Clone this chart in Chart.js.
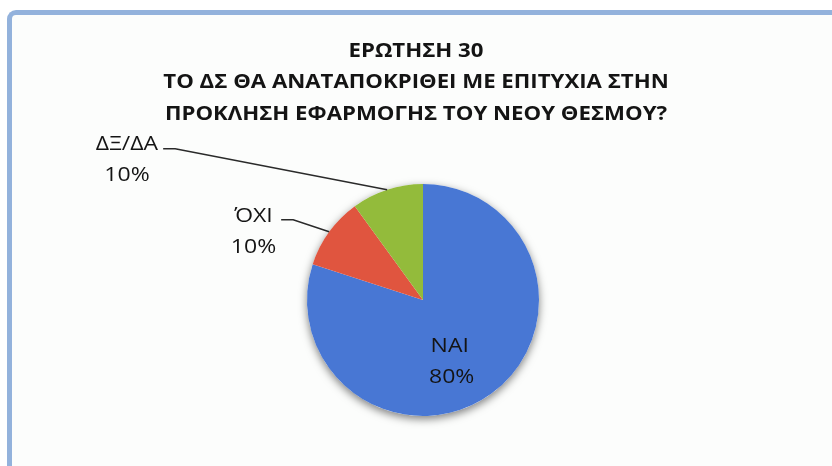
<!DOCTYPE html>
<html>
<head>
<meta charset="utf-8">
<script src="https://cdn.jsdelivr.net/npm/chart.js@4.4.0/dist/chart.umd.min.js"></script>
<style>
  html, body { margin: 0; padding: 0; background: #ffffff; overflow: hidden; }
  #frame {
    position: absolute; left: 7px; top: 10px; width: 840px; height: 470px;
    border-top: 5px solid #93b2dc; border-left: 5px solid #93b2dc;
    border-top-left-radius: 9px; background: #fcfdfc;
  }
  #wrap { position: absolute; left: 0; top: 0; width: 832px; height: 466px; }
</style>
</head>
<body>
<div id="frame"></div>
<div id="wrap"><canvas id="chart"></canvas></div>
<script>
const titleLines = [
  "ΕΡΩΤΗΣΗ 30",
  "ΤΟ ΔΣ ΘΑ ΑΝΑΤΑΠΟΚΡΙΘΕΙ ΜΕ ΕΠΙΤΥΧΙΑ ΣΤΗΝ",
  "ΠΡΟΚΛΗΣΗ ΕΦΑΡΜΟΓΗΣ ΤΟΥ ΝΕΟΥ ΘΕΣΜΟΥ?"
];
const categories = ["ΝΑΙ", "ΌΧΙ", "ΔΞ/ΔΑ"];
const percents = [80, 10, 10];
const sliceColors = ["#4877d4", "#e0553f", "#93bb3b"];

// how each label sits: inside the slice, or outside with an elbow leader line
const labelPlacement = [
  { inside: true, dist: 0.58, turn: 0.22 },
  { inside: false, elbowDx: -36, elbowDy: -12 },
  { inside: false, elbowDx: -212, elbowDy: -41 }
];

const titleFont = "bold 20px 'Open Sans'";
const titleStretch = 1.11;
const labelFont = "20px 'Open Sans'";
const labelStretch = 1.15;

// the scanned original is wider than the font, so text is drawn stretched
function wideText(ctx, text, x, y, sx) {
  ctx.save();
  ctx.translate(x, y);
  ctx.scale(sx, 1);
  ctx.fillText(text, 0, 0);
  ctx.restore();
}

const pieDecor = {
  id: "pieDecor",
  beforeDatasetsDraw(chart) {
    const ctx = chart.ctx;
    const arc = chart.getDatasetMeta(0).data[0];
    ctx.save();
    ctx.shadowColor = "rgba(0,0,0,0.5)";
    ctx.shadowBlur = 9;
    ctx.shadowOffsetY = 3;
    ctx.fillStyle = "#ffffff";
    ctx.beginPath();
    ctx.arc(arc.x, arc.y, arc.outerRadius, 0, Math.PI * 2);
    ctx.fill();
    ctx.restore();
  },
  afterDatasetsDraw(chart) {
    const ctx = chart.ctx;
    const meta = chart.getDatasetMeta(0);

    // title
    ctx.save();
    ctx.fillStyle = "#141414";
    ctx.font = titleFont;
    ctx.textAlign = "center";
    ctx.textBaseline = "middle";
    titleLines.forEach((line, i) => {
      wideText(ctx, line, chart.width / 2, 51 + i * 31.5, titleStretch);
    });
    ctx.restore();

    meta.data.forEach((arc, i) => {
      const p = labelPlacement[i];
      const mid = (arc.startAngle + arc.endAngle) / 2;
      const lines = [categories[i], percents[i] + "%"];
      ctx.save();
      ctx.font = labelFont;
      ctx.fillStyle = "#141414";
      ctx.textAlign = "center";
      ctx.textBaseline = "middle";
      if (p.inside) {
        const a = mid + p.turn;
        const cx = arc.x + Math.cos(a) * arc.outerRadius * p.dist;
        const cy = arc.y + Math.sin(a) * arc.outerRadius * p.dist;
        wideText(ctx, lines[0], cx, cy - 15, labelStretch);
        wideText(ctx, lines[1], cx + 2, cy + 16, labelStretch);
      } else {
        const ex = arc.x + Math.cos(mid) * arc.outerRadius;
        const ey = arc.y + Math.sin(mid) * arc.outerRadius;
        const kx = ex + p.elbowDx;
        const ky = ey + p.elbowDy;
        const sx = kx - 12;
        ctx.strokeStyle = "#2a2a2a";
        ctx.lineWidth = 1.5;
        ctx.beginPath();
        ctx.moveTo(sx, ky);
        ctx.lineTo(kx, ky);
        ctx.lineTo(ex, ey);
        ctx.stroke();
        const w = labelStretch * Math.max(ctx.measureText(lines[0]).width, ctx.measureText(lines[1]).width);
        const tx = sx - 5 - w / 2;
        wideText(ctx, lines[0], tx, ky - 4, labelStretch);
        wideText(ctx, lines[1], tx, ky + 27, labelStretch);
      }
      ctx.restore();
    });
  }
};

new Chart(document.getElementById("chart"), {
  type: "pie",
  data: {
    labels: categories,
    datasets: [{
      data: percents,
      backgroundColor: sliceColors,
      borderWidth: 0
    }]
  },
  options: {
    responsive: true,
    maintainAspectRatio: false,
    animation: false,
    layout: { padding: { top: 184, bottom: 50, left: 14, right: 0 } },
    plugins: {
      legend: { display: false },
      title: { display: false },
      tooltip: { enabled: false }
    }
  },
  plugins: [pieDecor]
});
</script>
</body>
</html>
